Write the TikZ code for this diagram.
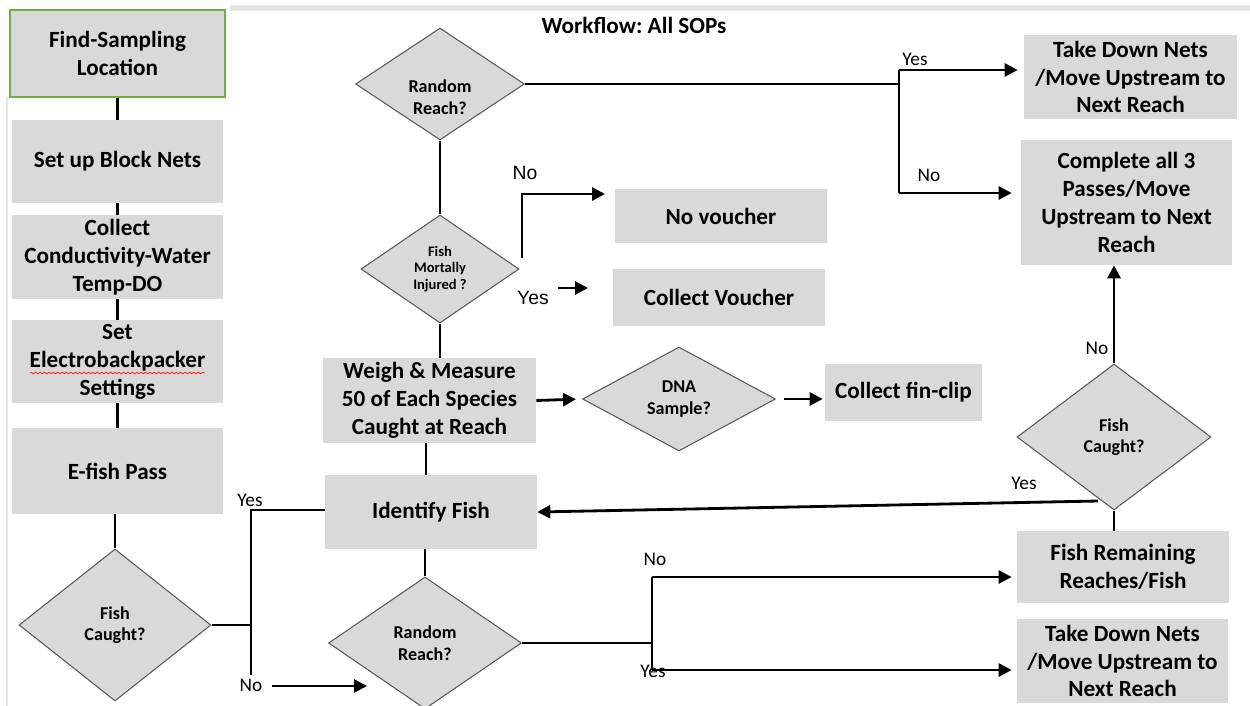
\documentclass[tikz,border=0pt]{standalone}
\usepackage{fontspec}
\setmainfont{Carlito}
\newfontfamily\arialfont{Liberation Sans}
\usepackage{tikz}
\usetikzlibrary{calc,shapes.geometric,arrows.meta,decorations.pathmorphing}
\definecolor{boxgray}{HTML}{D9D9D9}
\definecolor{edgegray}{HTML}{595959}
\definecolor{startgreen}{HTML}{70AD47}
\definecolor{framegray}{HTML}{E4E4E4}
\frenchspacing

\begin{document}
\begin{tikzpicture}[x=0.02cm,y=-0.02cm]
\tikzset{
% Boxes and decisions of the workflow
task/.style={fill=boxgray,align=center,inner sep=2pt,font=\bfseries\fontsize{13.2}{15.9}\selectfont},
decision/.style={diamond,draw=edgegray,line width=0.6pt,fill=boxgray,inner sep=0pt,align=center,font=\bfseries\fontsize{10.3}{12.3}\selectfont},
answer/.style={font=\fontsize{11}{13}\selectfont,inner sep=0pt},
flow/.style={line width=1.6pt},
flow arrow/.style={flow,-{Triangle[length=0.26cm,width=0.26cm]}}
}
\useasboundingbox (0,0) rectangle (1250,706);
% frame of the page
\fill[framegray] (230,5) rectangle (1250,11);
\draw[framegray,line width=0.04cm] (7,97) -- (7,706);

\node(title)[font=\bfseries\fontsize{13.2}{15.9}\selectfont] at (634,25) {Workflow: All SOPs};

% Left column
\node(find)[task,draw=startgreen,line width=1.1pt,minimum width=4.3cm,minimum height=1.74cm] at (117.5,53.5) {Find-Sampling\\Location};
\node(nets)[task,minimum width=4.22cm,minimum height=1.66cm] at (117.5,161.5) {Set up Block Nets};
\node(cond)[task,minimum width=4.22cm,minimum height=1.68cm] at (117.5,257) {Collect\\Conductivity-Water\\Temp-DO};
\node(elec)[task,minimum width=4.22cm,minimum height=1.66cm] at (117.5,361.5) {Set\\Electrobackpacker\\Settings};
\node(efish)[task,minimum width=4.22cm,minimum height=1.72cm] at (117.5,471) {E-fish Pass};
\node(caught1)[decision,minimum width=3.84cm,minimum height=3.04cm] at (115,625) {Fish\\Caught?};
\draw[red!85,line width=0.5pt,decorate,decoration={snake,amplitude=0.4pt,segment length=2.5pt}] (30,373) -- (205,373);

% Middle column
\node(random1)[decision,minimum width=3.38cm,minimum height=2.24cm,
  label={[font=\bfseries\fontsize{10.3}{12.3}\selectfont,align=center,yshift=-0.26cm]center:{Random\\Reach?}}] at (440,84) {};
\node(mortal)[decision,minimum width=3.16cm,minimum height=2.16cm,font=\bfseries\fontsize{8.3}{9.2}\selectfont] at (440,269) {Fish\\Mortally\\Injured ?};
\node(novouch)[task,minimum width=4.24cm,minimum height=1.08cm] at (721,216) {No voucher};
\node(voucher)[task,minimum width=4.24cm,minimum height=1.14cm] at (719,297.5) {Collect Voucher};
\node(weigh)[task,minimum width=4.26cm,minimum height=1.7cm] at (429.5,400.5) {Weigh \& Measure\\50 of Each Species\\Caught at Reach};
\node(dna)[decision,minimum width=3.86cm,minimum height=2.08cm] at (679,399) {DNA\\Sample?};
\node(fin)[task,minimum width=3.14cm,minimum height=1.14cm] at (903.5,392.5) {Collect fin-clip};
\node(ident)[task,minimum width=4.24cm,minimum height=1.48cm] at (431,512) {Identify Fish};
\node(random2)[decision,minimum width=3.86cm,minimum height=2.64cm] at (425,643) {Random\\Reach?};

% Right column
\node(takedown1)[task,minimum width=4.26cm,minimum height=1.68cm] at (1130.5,77) {Take Down Nets\\/Move Upstream to\\Next Reach};
\node(complete)[task,minimum width=4.22cm,minimum height=2.5cm] at (1126.5,202.5) {Complete all 3\\Passes/Move\\Upstream to Next\\Reach};
\node(caught2)[decision,minimum width=3.88cm,minimum height=2.92cm] at (1114,437) {Fish\\Caught?};
\node(remain)[task,minimum width=4.24cm,minimum height=1.44cm] at (1123,567) {Fish Remaining\\Reaches/Fish};
\node(takedown2)[task,minimum width=4.22cm,minimum height=1.68cm] at (1122.5,661) {Take Down Nets\\/Move Upstream to\\Next Reach};

% junctions
\coordinate(j1) at (251,510);
\coordinate(j2) at (251,675);
\coordinate(na1) at (272,686);
\coordinate(na2) at (367,686);
\coordinate(brM) at (899,84);
\coordinate(brA) at (899,70);
\coordinate(brB) at (899,193);
\coordinate(mn1) at (522,258);
\coordinate(mn2) at (522,194);
\coordinate(mntip) at (605,194);
\coordinate(my1) at (558,288);
\coordinate(my2) at (588,288);
\coordinate(cy) at (1098,501);
\coordinate(r2j) at (652,643);
\coordinate(r2n) at (652,577);
\coordinate(r2y) at (652,670);

% Connectors
\draw[flow] (find) -- (nets);
\draw[flow] (nets) -- (cond);
\draw[flow] (cond) -- (elec);
\draw[flow] (elec) -- (efish);
\draw[flow] (caught1.north |- efish.south) -- (caught1.north);
\draw[flow,line width=1.1pt] (caught1.east) -- (j1 |- caught1.east);
\draw[flow] (j2) -- (j1) -- (j1 -| ident.west);
\draw[flow arrow] (na1) -- (na2);

\draw[flow] (random1.east) -- (brM);
\draw[flow] (brA) -- (brB);
\draw[flow arrow,shorten >=0.12cm] (brA) -- (brA -| takedown1.west);
\draw[flow arrow,shorten >=0.18cm] (brB) -- (brB -| complete.west);
\draw[flow] (random1.south) -- (mortal.north);
\draw[flow arrow] (mn1) -- (mn2) -- (mntip);
\draw[flow arrow] (my1) -- (my2);
\draw[flow] (mortal.south) -- (mortal.south |- weigh.north);
\draw[flow arrow,shorten >=0.12cm] (weigh.east) -- (dna.west);
\draw[flow arrow,shorten <=0.16cm,shorten >=0.04cm] (dna.east) -- (dna.east -| fin.west);
\draw[flow] ([xshift=-0.07cm]weigh.south) -- ([xshift=-0.07cm]weigh.south |- ident.north);
\draw[flow] (random2.north |- ident.south) -- (random2.north);
\draw[flow arrow] (cy) -- (ident.east);
\draw[flow,line width=1.1pt] (random2.east) -- (r2j);
\draw[flow] (r2n) -- (r2y);
\draw[flow arrow,shorten >=0.1cm] (r2n) -- (r2n -| remain.west);
\draw[flow arrow,shorten >=0.1cm] (r2y) -- (r2y -| takedown2.west);
\draw[flow arrow] (caught2.north) -- (caught2.north |- complete.south);
\draw[flow] (caught2.south) -- (caught2.south |- remain.north);

% Yes / No labels
\node(y1)[answer] at (250,500) {Yes};
\node(n1)[answer] at (251,685) {No};
\node(y2)[answer] at (915,59) {Yes};
\node(n2)[answer] at (929,175) {No};
\node(n3)[answer,font=\arialfont\fontsize{11}{13}\selectfont] at (525,173) {No};
\node(y3)[answer,font=\arialfont\fontsize{11}{13}\selectfont] at (533,298) {Yes};
\node(y4)[answer] at (1024,483) {Yes};
\node(n4)[answer] at (655,559) {No};
\node(y5)[answer] at (653,671) {Yes};
\node(n5)[answer] at (1097,348) {No};
\end{tikzpicture}
\end{document}
